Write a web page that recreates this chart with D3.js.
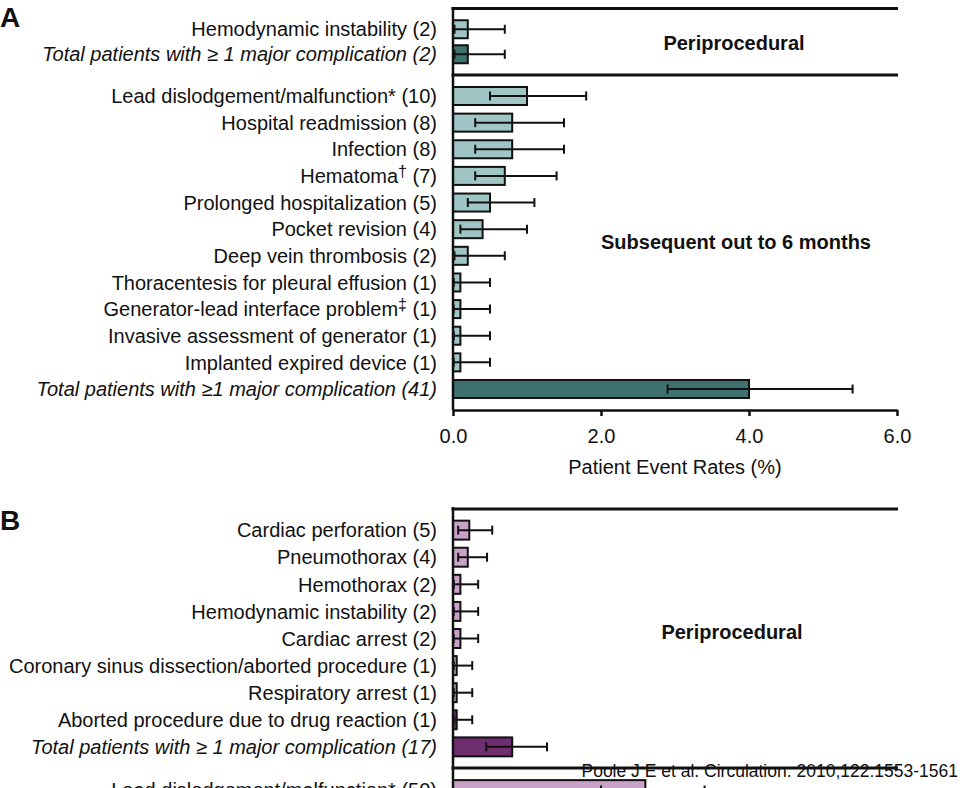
<!DOCTYPE html>
<html><head><meta charset="utf-8">
<script src="https://cdn.jsdelivr.net/npm/d3@7"></script>
<style>
html,body{margin:0;padding:0;background:#fff;}
svg{display:block;font-family:"Liberation Sans",Arial,Helvetica,sans-serif;}
</style></head>
<body>
<script>
// ---------- DATA ----------
const catA1 = ["Hemodynamic instability (2)", "Total patients with ≥ 1 major complication (2)"];
const valA1 = [0.2, 0.2];
const lowA1 = [0.02, 0.02];
const highA1 = [0.7, 0.7];

const catA2 = ["Lead dislodgement/malfunction* (10)", "Hospital readmission (8)", "Infection (8)", "Hematoma† (7)",
  "Prolonged hospitalization (5)", "Pocket revision (4)", "Deep vein thrombosis (2)",
  "Thoracentesis for pleural effusion (1)", "Generator-lead interface problem‡ (1)",
  "Invasive assessment of generator (1)", "Implanted expired device (1)",
  "Total patients with ≥1 major complication (41)"];
const valA2 = [1.0, 0.8, 0.8, 0.7, 0.5, 0.4, 0.2, 0.1, 0.1, 0.1, 0.1, 4.0];
const lowA2 = [0.5, 0.3, 0.3, 0.3, 0.2, 0.1, 0.02, 0.01, 0.01, 0.01, 0.01, 2.9];
const highA2 = [1.8, 1.5, 1.5, 1.4, 1.1, 1.0, 0.7, 0.5, 0.5, 0.5, 0.5, 5.4];

const catB1 = ["Cardiac perforation (5)", "Pneumothorax (4)", "Hemothorax (2)", "Hemodynamic instability (2)",
  "Cardiac arrest (2)", "Coronary sinus dissection/aborted procedure (1)", "Respiratory arrest (1)",
  "Aborted procedure due to drug reaction (1)", "Total patients with ≥ 1 major complication (17)"];
const valB1 = [0.22, 0.2, 0.1, 0.1, 0.1, 0.05, 0.05, 0.05, 0.8];
const lowB1 = [0.07, 0.07, 0.01, 0.01, 0.01, 0.01, 0.01, 0.01, 0.45];
const highB1 = [0.53, 0.46, 0.34, 0.34, 0.34, 0.26, 0.26, 0.26, 1.27];

const catB2 = ["Lead dislodgement/malfunction* (50)"];
const valB2 = [2.6];
const lowB2 = [2.0];
const highB2 = [3.4];

const xTicks = [0, 2, 4, 6];
const italicRows = ["Total patients with ≥ 1 major complication (2)", "Total patients with ≥1 major complication (41)", "Total patients with ≥ 1 major complication (17)"];

// ---------- LAYOUT ----------
const W = 960, H = 788;
const svg = d3.select("body").append("svg").attr("width", W).attr("height", H);

const x = d3.scaleLinear().domain([0, 6]).range([453, 897]);
const xEnd = 898;
const labelX = 437;
const fs = 20;
const ink = "#111";

const colA = {light: "#9fc5c4", dark: "#3e7170"};
const colB = {light: "#c9a1c9", dark: "#6f2e70"};

function section(cats, vals, lows, highs, range, pi, po, colors, darkIdx) {
  const y = d3.scaleBand().domain(cats).range(range).paddingInner(pi).paddingOuter(po);
  const rows = cats.map((c, i) => ({c, v: vals[i], lo: lows[i], hi: highs[i], i}));
  const g = svg.append("g");
  const cy = d => y(d.c) + y.bandwidth() / 2;
  // labels
  const t = g.selectAll("text.lab").data(rows).join("text")
    .attr("class", "lab")
    .attr("x", labelX)
    .attr("y", cy)
    .attr("dy", "0.36em")
    .attr("text-anchor", "end")
    .attr("font-size", fs)
    .attr("font-style", d => italicRows.includes(d.c) ? "italic" : "normal")
    .attr("fill", ink);
  t.each(function(d) {
    const el = d3.select(this);
    const m = d.c.match(/^(.*?)([†‡])(.*)$/);
    if (m) {
      el.append("tspan").text(m[1]);
      el.append("tspan").text(m[2]).attr("font-size", fs * 0.8).attr("dy", "-0.4em");
      el.append("tspan").text(m[3]).attr("dy", "0.32em");
    } else {
      el.text(d.c);
    }
  });
  // bars
  g.selectAll("rect.bar").data(rows).join("rect")
    .attr("class", "bar")
    .attr("x", x(0))
    .attr("y", d => y(d.c))
    .attr("width", d => x(d.v) - x(0))
    .attr("height", y.bandwidth())
    .attr("fill", d => darkIdx.includes(d.i) ? colors.dark : colors.light)
    .attr("stroke", ink)
    .attr("stroke-width", 2);
  // error bars
  const eb = g.selectAll("g.eb").data(rows).join("g").attr("class", "eb")
    .attr("stroke", ink).attr("stroke-width", 2);
  eb.append("line")
    .attr("x1", d => x(d.lo)).attr("x2", d => x(d.hi))
    .attr("y1", cy).attr("y2", cy);
  eb.append("line")
    .attr("x1", d => x(d.hi)).attr("x2", d => x(d.hi))
    .attr("y1", d => cy(d) - 4.5).attr("y2", d => cy(d) + 4.5);
  eb.append("line")
    .attr("x1", d => x(d.lo)).attr("x2", d => x(d.lo))
    .attr("y1", d => cy(d) - 4.5).attr("y2", d => cy(d) + 4.5);
  return y;
}

function hline(yy) {
  svg.append("line").attr("x1", x(0) - 1.5).attr("x2", xEnd).attr("y1", yy).attr("y2", yy)
    .attr("stroke", ink).attr("stroke-width", 3);
}

// Panel A
section(catA1, valA1, lowA1, highA1, [8.5, 75], 0.28, 0.47, colA, [1]);
section(catA2, valA2, lowA2, highA2, [75, 410], 0.324, 0.45, colA, [11]);
svg.append("line").attr("x1", x(0)).attr("x2", x(0)).attr("y1", 7).attr("y2", 410)
  .attr("stroke", ink).attr("stroke-width", 2.5);
hline(8.5);
hline(75);

const axA = svg.append("g").attr("transform", "translate(0,410)")
  .call(d3.axisBottom(x).tickValues(xTicks).tickFormat(d3.format(".1f")).tickSize(6).tickSizeOuter(0));
axA.select(".domain").attr("stroke", ink).attr("stroke-width", 2.5);
axA.selectAll(".tick line").attr("stroke", ink).attr("stroke-width", 2.5);
axA.selectAll(".tick text").attr("font-size", fs).attr("font-family", "Liberation Sans, Arial, sans-serif")
  .attr("fill", ink).attr("dy", "1.2em");
svg.append("text").attr("x", (x(0) + x(6)) / 2).attr("y", 474).attr("text-anchor", "middle")
  .attr("font-size", fs).attr("fill", ink).text("Patient Event Rates (%)");

svg.append("text").attr("x", 734).attr("y", 50).attr("text-anchor", "middle")
  .attr("font-size", 20).attr("font-weight", "bold").attr("fill", ink).text("Periprocedural");
svg.append("text").attr("x", 736).attr("y", 249).attr("text-anchor", "middle")
  .attr("font-size", 20).attr("font-weight", "bold").attr("fill", ink).text("Subsequent out to 6 months");

svg.append("text").attr("x", 0).attr("y", 27).attr("font-size", 28).attr("font-weight", "bold").attr("fill", ink).text("A");
svg.append("text").attr("x", 0).attr("y", 530).attr("font-size", 28).attr("font-weight", "bold").attr("fill", ink).text("B");

// Panel B
section(catB1, valB1, lowB1, highB1, [509, 768], 0.3, 0.43, colB, [7, 8]);
section(catB2, valB2, lowB2, highB2, [768, 812], 0.3, 0.43, colB, []);
svg.append("line").attr("x1", x(0)).attr("x2", x(0)).attr("y1", 507).attr("y2", 800)
  .attr("stroke", ink).attr("stroke-width", 2.5);
hline(509);
hline(768);

svg.append("text").attr("x", 732).attr("y", 639).attr("text-anchor", "middle")
  .attr("font-size", 20).attr("font-weight", "bold").attr("fill", ink).text("Periprocedural");

svg.append("text").attr("x", 958).attr("y", 777).attr("text-anchor", "end")
  .attr("font-size", 17.5).attr("fill", ink).text("Poole J E et al. Circulation. 2010;122:1553-1561");
</script>
</body></html>
